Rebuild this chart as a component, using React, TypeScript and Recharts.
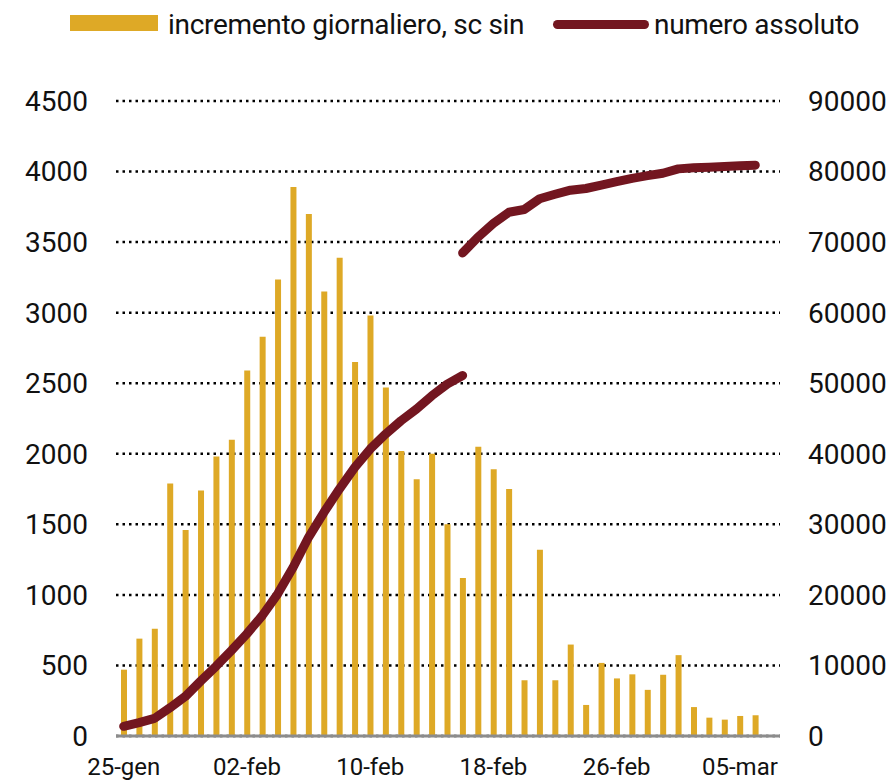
import { Bar, CartesianGrid, ComposedChart, Line, XAxis, YAxis } from "recharts"

// date labels, one per bar (from 25-gen)
const dates = [
  "25-gen", "26-gen", "27-gen", "28-gen", "29-gen", "30-gen", "31-gen",
  "01-feb", "02-feb", "03-feb", "04-feb", "05-feb", "06-feb", "07-feb", "08-feb", "09-feb",
  "10-feb", "11-feb", "12-feb", "13-feb", "14-feb", "15-feb", "16-feb", "17-feb",
  "18-feb", "19-feb", "20-feb", "21-feb", "22-feb", "23-feb", "24-feb", "25-feb",
  "26-feb", "27-feb", "28-feb", "29-feb", "01-mar", "02-mar", "03-mar", "04-mar",
  "05-mar", "06-mar",
]

// incremento giornaliero (left axis)
const daily = [
  470, 690, 760, 1790, 1460, 1740, 1980, 2100, 2590, 2830, 3235, 3890, 3700, 3150,
  3390, 2650, 2980, 2470, 2020, 1820, 2000, 1500, 1120, 2050, 1890, 1750, 395, 1320,
  395, 648, 220, 518, 408, 437, 327, 434, 573, 205, 130, 116, 142, 147,
]

// numero assoluto, first stretch (right axis)
const totalBefore = [
  1370, 1900, 2500, 4000, 5600, 7800, 9900, 12130, 14490, 17080, 20150, 23910,
  28160, 31700, 35000, 38060, 40670, 42790, 44680, 46330, 48220, 49880, 51100,
]

// numero assoluto after the revision, starts on the same day the first one ends
const breakIndex = 22
const totalAfter = [
  68460, 70720, 72640, 74230, 74620, 76150, 76780, 77360, 77600, 78080, 78560,
  79040, 79420, 79760, 80380, 80530, 80620, 80720, 80820, 80910,
]

const leftTicks = [0, 500, 1000, 1500, 2000, 2500, 3000, 3500, 4000, 4500]
const rightTicks = [0, 10000, 20000, 30000, 40000, 50000, 60000, 70000, 80000, 90000]

const barLabel = "incremento giornaliero, sc sin"
const lineLabel = "numero assoluto"

const GOLD = "#DEA926"
const MAROON = "#731620"

const data = dates.map((d, i) => ({
  date: d,
  daily: daily[i],
  totalA: i < totalBefore.length ? totalBefore[i] : null,
  totalB: i >= breakIndex ? totalAfter[i - breakIndex] : null,
}))

const legendText = {
  position: "absolute" as const,
  top: 11,
  fontSize: 28,
  lineHeight: "28px",
  letterSpacing: -0.3,
  color: "#111",
  whiteSpace: "nowrap" as const,
}

const App = () => {
  return (
    <div style={{ position: "absolute", left: 0, top: 0, width: 896, height: 781, background: "#fff", fontFamily: "Roboto, sans-serif" }}>
      <div style={{ position: "absolute", left: 70, top: 15, width: 88, height: 16, background: GOLD }} />
      <div style={{ ...legendText, left: 168 }}>{barLabel}</div>
      <div style={{ position: "absolute", left: 553, top: 20, width: 96, height: 9, borderRadius: 5, background: MAROON }} />
      <div style={{ ...legendText, left: 654 }}>{lineLabel}</div>

      <ComposedChart
        width={896}
        height={781}
        data={data}
        margin={{ top: 101, right: 0, bottom: 0, left: 0 }}
        style={{ position: "absolute", left: 0, top: 0 }}
      >
        <CartesianGrid vertical={false} stroke="#000" strokeWidth={2.5} strokeDasharray="2.5 4" yAxisId="left" />
        <XAxis
          dataKey="date"
          interval={7}
          height={45}
          padding={{ left: 0, right: 17 }}
          axisLine={{ stroke: "#8c8c8c", strokeWidth: 3 }}
          tickLine={false}
          tickSize={0}
          tickMargin={22}
          tick={{ fontSize: 24, fill: "#111", fontFamily: "Roboto" }}
        />
        <YAxis
          yAxisId="left"
          orientation="left"
          width={116}
          domain={[0, 4500]}
          ticks={leftTicks}
          axisLine={false}
          tickLine={false}
          tickSize={0}
          tickMargin={28}
          tick={{ fontSize: 28, fill: "#111", fontFamily: "Roboto" }}
        />
        <YAxis
          yAxisId="right"
          orientation="right"
          width={116}
          domain={[0, 90000]}
          ticks={rightTicks}
          axisLine={false}
          tickLine={false}
          tickSize={0}
          tickMargin={28}
          tick={{ fontSize: 28, fill: "#111", fontFamily: "Roboto" }}
        />
        <Bar yAxisId="left" dataKey="daily" name={barLabel} fill={GOLD} barSize={6} isAnimationActive={false} />
        <Line
          yAxisId="right"
          type="linear"
          dataKey="totalA"
          name={lineLabel}
          stroke={MAROON}
          strokeWidth={9}
          strokeLinecap="round"
          strokeLinejoin="round"
          dot={false}
          activeDot={false}
          isAnimationActive={false}
        />
        <Line
          yAxisId="right"
          type="linear"
          dataKey="totalB"
          name={lineLabel}
          stroke={MAROON}
          strokeWidth={9}
          strokeLinecap="round"
          strokeLinejoin="round"
          dot={false}
          activeDot={false}
          isAnimationActive={false}
        />
      </ComposedChart>
    </div>
  )
}

export default App
